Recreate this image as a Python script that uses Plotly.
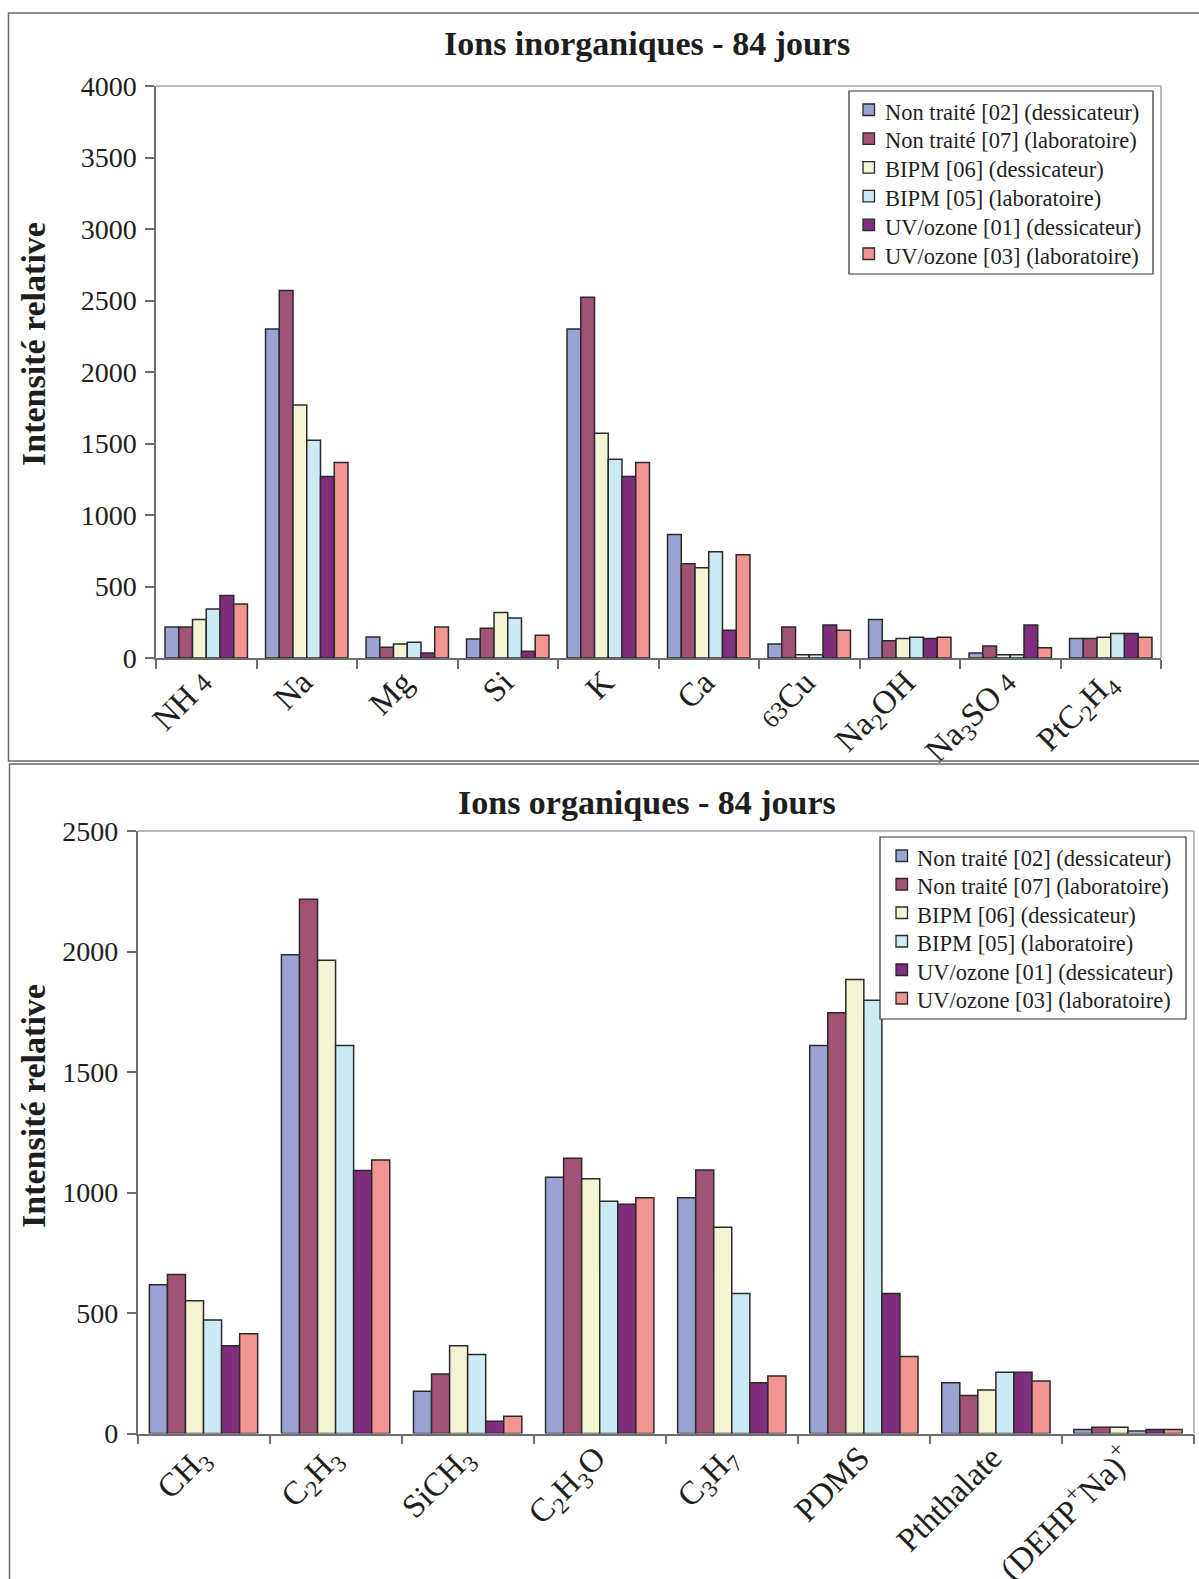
import plotly.graph_objects as go

W, H = 1199, 1579
FONT = "Liberation Serif"
INK = "#1e1e1e"

# Series shared by both panels
series_names = [
    "Non traité [02] (dessicateur)",
    "Non traité [07] (laboratoire)",
    "BIPM [06] (dessicateur)",
    "BIPM [05] (laboratoire)",
    "UV/ozone [01] (dessicateur)",
    "UV/ozone [03] (laboratoire)",
]
series_colors = ["#9aa4d3", "#a35277", "#f4f3d3", "#cceaf4", "#7f2e7e", "#f29590"]

# Inorganic ions
inorg_categories = ["NH4", "Na", "Mg", "Si", "K", "Ca", "63Cu", "Na2OH", "Na3SO4", "PtC2H4"]
inorg_ticktext = [
    "NH<span style='font-size:27px'> 4</span>",
    "Na",
    "Mg",
    "Si",
    "K",
    "Ca",
    "<span style='font-size:25px'>63</span>Cu",
    "Na<sub>2</sub>OH",
    "Na<sub>3</sub>SO<span style='font-size:27px'> 4</span>",
    "PtC<sub>2</sub>H<sub>4</sub>",
]
inorg_nt02 = [217, 2300, 147, 133, 2300, 864, 98, 269, 35, 136]
inorg_nt07 = [217, 2570, 75, 208, 2523, 659, 217, 121, 84, 136]
inorg_bipm06 = [269, 1769, 98, 318, 1572, 631, 23, 136, 23, 145]
inorg_bipm05 = [343, 1523, 110, 280, 1390, 743, 23, 145, 23, 171]
inorg_uv01 = [437, 1269, 35, 47, 1269, 194, 231, 136, 231, 171]
inorg_uv03 = [378, 1367, 217, 159, 1367, 722, 194, 145, 72, 145]

# Organic ions
org_categories = ["CH3", "C2H3", "SiCH3", "C2H3O", "C3H7", "PDMS", "Pththalate", "DEHPNa"]
org_ticktext = [
    "CH<sub>3</sub>",
    "C<sub>2</sub>H<sub>3</sub>",
    "SiCH<sub>3</sub>",
    "C<sub>2</sub>H<sub>3</sub>O",
    "C<sub>3</sub>H<sub>7</sub>",
    "PDMS",
    "Pththalate",
    "(DEHP<sup>+</sup>Na)<sup>+</sup>",
]
org_nt02 = [617, 1986, 175, 1063, 978, 1610, 211, 17]
org_nt07 = [660, 2217, 247, 1142, 1093, 1746, 158, 26]
org_bipm06 = [551, 1964, 364, 1057, 856, 1884, 181, 26]
org_bipm05 = [471, 1610, 328, 964, 581, 1798, 254, 10]
org_uv01 = [364, 1091, 51, 951, 211, 581, 254, 17]
org_uv03 = [414, 1135, 72, 978, 239, 319, 218, 17]

inorg_values = [inorg_nt02, inorg_nt07, inorg_bipm06, inorg_bipm05, inorg_uv01, inorg_uv03]
org_values = [org_nt02, org_nt07, org_bipm06, org_bipm05, org_uv01, org_uv03]

OUTLINE = "#2a2a2a"


def px(x):
    return x / W


def py(y):
    return 1 - y / H


fig = go.Figure()

for name, color, vals in zip(series_names, series_colors, inorg_values):
    fig.add_trace(go.Bar(
        x=inorg_categories, y=vals, name=name, xaxis="x", yaxis="y",
        marker=dict(color=color, line=dict(color=OUTLINE, width=1.5)),
        showlegend=False,
    ))

for name, color, vals in zip(series_names, series_colors, org_values):
    fig.add_trace(go.Bar(
        x=org_categories, y=vals, name=name, xaxis="x2", yaxis="y2",
        marker=dict(color=color, line=dict(color=OUTLINE, width=1.5)),
        showlegend=False,
    ))

axis_common = dict(showline=True, linecolor="#6e6e6e", linewidth=1.5,
                   showgrid=False, zeroline=False, ticks="outside",
                   tickcolor="#6e6e6e", tickwidth=1.5, ticklen=9, automargin=False)
ytick_font = dict(family=FONT, size=28, color=INK)
xtick_font = dict(family=FONT, size=33, color=INK)
xlabel_pos = dict(ticklabelstandoff=-10, ticklabelshift=-4)

fig.update_layout(
    width=W, height=H,
    margin=dict(l=0, r=0, t=0, b=0, autoexpand=False),
    paper_bgcolor="white", plot_bgcolor="white",
    barmode="group", bargap=0.18, bargroupgap=0,
    font=dict(family=FONT, color=INK),
    showlegend=False,
    xaxis=dict(domain=[px(156), px(1161)], anchor="y", type="category",
               tickmode="array", tickvals=inorg_categories, ticktext=inorg_ticktext,
               tickson="boundaries", tickangle=-45, tickfont=xtick_font,
               **xlabel_pos, **axis_common),
    yaxis=dict(domain=[py(658), py(86)], anchor="x", range=[0, 4000], dtick=500,
               ticklabelstandoff=3, tickfont=ytick_font, **axis_common),
    xaxis2=dict(domain=[px(137.5), px(1194)], anchor="y2", type="category",
                tickmode="array", tickvals=org_categories, ticktext=org_ticktext,
                tickson="boundaries", tickangle=-45, tickfont=xtick_font,
                **xlabel_pos, **axis_common),
    yaxis2=dict(domain=[py(1433.5), py(831)], anchor="x2", range=[0, 2500], dtick=500,
                ticklabelstandoff=3, tickfont=ytick_font, **axis_common),
)

# Titles and y-axis labels
title_font = dict(family=FONT, size=34, color=INK)
fig.add_annotation(text="<b>Ions inorganiques - 84 jours</b>", x=px(647), y=py(44),
                   xref="paper", yref="paper", showarrow=False, font=title_font,
                   xanchor="center", yanchor="middle")
fig.add_annotation(text="<b>Ions organiques - 84 jours</b>", x=px(647), y=py(802),
                   xref="paper", yref="paper", showarrow=False, font=title_font,
                   xanchor="center", yanchor="middle")
for yc in (344, 1106):
    fig.add_annotation(text="<b>Intensité relative</b>", x=px(33), y=py(yc),
                       xref="paper", yref="paper", showarrow=False, font=title_font,
                       textangle=-90, xanchor="center", yanchor="middle")

# Legend boxes: square swatch + label per series
legend_font = dict(family=FONT, size=22.5, color=INK)
for (bx0, by0, bx1, by1, sw_x, txt_x, row0, step) in (
    (849, 91, 1153, 274, 863, 883, 112, 28.8),
    (880, 837, 1186, 1019, 896, 915, 858, 28.5),
):
    fig.add_shape(type="rect", xref="paper", yref="paper",
                  x0=px(bx0), x1=px(bx1), y0=py(by1), y1=py(by0),
                  line=dict(color="#333333", width=1.2), fillcolor="white", layer="above")
    for i, (name, color) in enumerate(zip(series_names, series_colors)):
        yc = row0 + i * step
        fig.add_shape(type="rect", xref="paper", yref="paper",
                      x0=px(sw_x), x1=px(sw_x + 11.5),
                      y0=py(yc + 3.5), y1=py(yc - 8), layer="above",
                      fillcolor=color, line=dict(color=OUTLINE, width=1.3))
        fig.add_annotation(text=name, x=px(txt_x), y=py(yc), xref="paper", yref="paper",
                           showarrow=False, font=legend_font,
                           xanchor="left", yanchor="middle")

# Plot-area border (top and right edges)
for xr, yr in (("x domain", "y domain"), ("x2 domain", "y2 domain")):
    fig.add_shape(type="line", xref=xr, yref=yr, x0=0, x1=1, y0=1, y1=1,
                  line=dict(color="#9aa3ad", width=1.5))
    fig.add_shape(type="line", xref=xr, yref=yr, x0=1, x1=1, y0=0, y1=1,
                  line=dict(color="#9aa3ad", width=1.5))

# Outer frames around each panel
frame = dict(color="#6a6a6a", width=1.5)
fig.add_shape(type="rect", xref="paper", yref="paper",
              x0=px(8.5), x1=px(1205), y0=py(761), y1=py(13), line=frame)
fig.add_shape(type="rect", xref="paper", yref="paper",
              x0=px(9.5), x1=px(1205), y0=py(1590), y1=py(764), line=frame)

fig.write_html("out.html")
